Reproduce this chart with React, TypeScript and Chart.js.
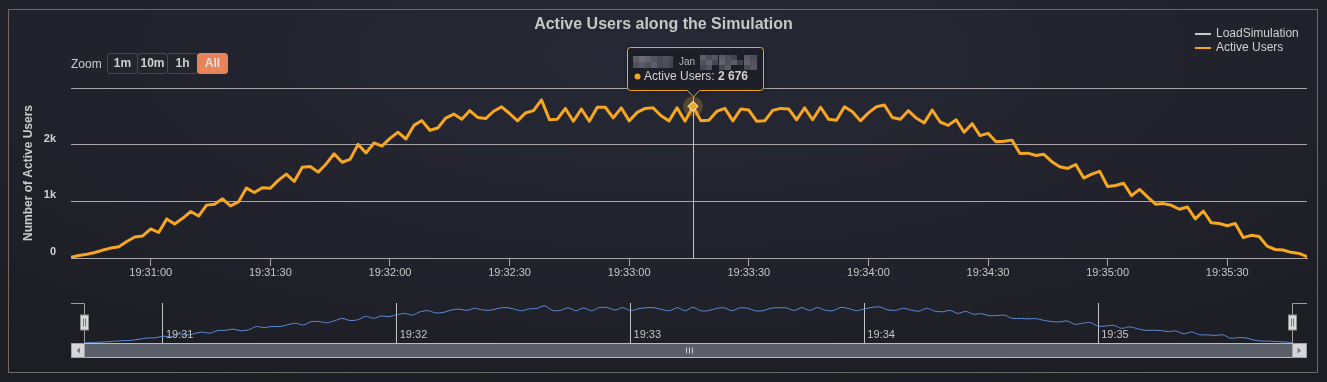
import React, { useEffect, useRef } from "react";
import { Chart, registerables } from "chart.js";

Chart.register(...registerables);

const FONT = '"Liberation Sans", Arial, Helvetica, sans-serif';
Chart.defaults.font.family = FONT;

const ORANGE = "#f5a623";
const NAV_BLUE = "#5b8ad6";
const GRID = "#aba6ab";
const LABEL = "#c8c8c8";

// ---------- data ----------
const chartTitle = "Active Users along the Simulation";
const yAxisTitle = "Number of Active Users";
const seriesNames = ["LoadSimulation", "Active Users"];
const seriesColors = ["#c8c8c8", ORANGE];
const zoomButtons = ["1m", "10m", "1h", "All"];
const selectedZoom = "All";

const START_TIME = "19:30:40";
const STEP_SECONDS = 2;

const activeUsers = [
  12, 45, 65, 97, 140, 175, 200, 290, 370, 390,
  513, 450, 690, 600, 700, 820, 740, 933, 950, 1044,
  920, 990, 1234, 1156, 1240, 1230, 1370, 1481, 1350, 1600,
  1616, 1515, 1660, 1840, 1690, 1740, 2005, 1853, 2030, 1975,
  2110, 2220, 2100, 2340, 2425, 2255, 2295, 2470, 2540, 2450,
  2600, 2480, 2460, 2590, 2667, 2550, 2420, 2560, 2600, 2790,
  2440, 2450, 2638, 2413, 2630, 2413, 2660, 2660, 2473, 2650,
  2420, 2570, 2640, 2650, 2510, 2420, 2650, 2413, 2676, 2420,
  2430, 2590, 2640, 2420, 2630, 2610, 2413, 2420, 2605, 2640,
  2630, 2440, 2650, 2440, 2660, 2450, 2430, 2670, 2580, 2420,
  2560, 2670, 2700, 2480, 2450, 2600, 2470, 2384, 2610, 2400,
  2340, 2440, 2220, 2370, 2160, 2200, 2050, 2060, 2080, 1845,
  1850, 1810, 1830, 1700, 1610, 1580, 1650, 1411, 1480, 1530,
  1260, 1280, 1320, 1100, 1210, 1080, 950, 960, 930, 860,
  900, 690, 830, 620, 610, 570, 610, 360, 400, 380,
  210, 150, 140, 100, 80, 25,
];
const loadSimulation: number[] = [];

const xTickLabels = [
  "19:31:00", "19:31:30", "19:32:00", "19:32:30", "19:33:00",
  "19:33:30", "19:34:00", "19:34:30", "19:35:00", "19:35:30",
];
const navTickLabels = ["19:31", "19:32", "19:33", "19:34", "19:35"];
const yTickValues = [0, 1000, 2000, 3000];
const yTickLabels = ["0", "1k", "2k", ""];
const hoverIndex = 78;
const tooltipMonth = "Jan";

// ---------- helpers ----------
const toSeconds = (s: string) => {
  const p = s.split(":").map(Number);
  return p[0] * 3600 + p[1] * 60 + (p[2] || 0);
};
const t0 = toSeconds(START_TIME);
const times = activeUsers.map((_, i) => t0 + i * STEP_SECONDS);
const xMin = times[0];
const xMax = times[times.length - 1];
const fmtNum = (v: number) => String(v).replace(/\B(?=(\d{3})+(?!\d))/g, " ");

// redacted mosaic cells in the tooltip header: [dx, dy, w, h, color]
const mosaic: [number, number, number, number, string][] = [
  [6, 9, 6, 6, "#5c5d67"], [12, 9, 6, 6, "#6a6b74"], [18, 9, 6, 6, "#62636c"], [24, 9, 6, 6, "#55565f"],
  [30, 9, 6, 6, "#4b4c56"], [36, 9, 6, 6, "#50515b"], [42, 9, 4, 6, "#464752"],
  [6, 15, 6, 6, "#50515b"], [12, 15, 6, 6, "#5a5b65"], [18, 15, 6, 6, "#4e4f59"], [24, 15, 6, 6, "#5e5f68"],
  [30, 15, 6, 6, "#474853"], [36, 15, 6, 6, "#4c4d57"], [42, 15, 4, 6, "#42434e"],
  [73, 8, 6, 5, "#5e5f69"], [79, 8, 6, 5, "#4a4b55"], [85, 8, 6, 5, "#565761"], [92, 8, 6, 5, "#5a5b64"],
  [98, 8, 6, 5, "#4d4e58"], [104, 8, 6, 5, "#43444e"], [117, 8, 6, 5, "#585962"], [123, 8, 7, 5, "#4c4d57"],
  [73, 13, 6, 5, "#4f505a"], [79, 13, 6, 5, "#60616a"], [85, 13, 6, 5, "#474852"], [92, 13, 6, 5, "#63646d"],
  [98, 13, 6, 5, "#50515b"], [104, 13, 6, 5, "#5b5c66"], [110, 13, 6, 5, "#3f404a"], [117, 13, 6, 5, "#5f6069"], [123, 13, 7, 5, "#51525c"],
  [73, 18, 6, 5, "#454650"], [79, 18, 6, 5, "#51525c"], [92, 18, 6, 5, "#484953"], [98, 18, 6, 5, "#575862"],
  [117, 18, 6, 5, "#4a4b55"], [123, 18, 7, 5, "#555660"],
];

// ---------- plugins ----------
const hoverPlugin = {
  id: "hoverPlugin",
  beforeDatasetsDraw(chart: any) {
    const { ctx, chartArea, scales } = chart;
    const px = Math.round(scales.x.getPixelForValue(times[hoverIndex])) + 0.5;
    ctx.save();
    ctx.strokeStyle = "#c4c0c4";
    ctx.lineWidth = 1;
    ctx.beginPath();
    ctx.moveTo(px, chartArea.top);
    ctx.lineTo(px, chartArea.bottom);
    ctx.stroke();
    ctx.restore();
  },
  afterDraw(chart: any) {
    const { ctx, scales } = chart;
    const px = scales.x.getPixelForValue(times[hoverIndex]);
    const py = scales.y.getPixelForValue(activeUsers[hoverIndex]);
    ctx.save();
    // halo
    ctx.fillStyle = "rgba(245,166,35,0.25)";
    ctx.beginPath();
    ctx.arc(px, py, 10, 0, Math.PI * 2);
    ctx.fill();
    // diamond marker
    const r = 5;
    ctx.beginPath();
    ctx.moveTo(px, py - r);
    ctx.lineTo(px + r, py);
    ctx.lineTo(px, py + r);
    ctx.lineTo(px - r, py);
    ctx.closePath();
    ctx.fillStyle = ORANGE;
    ctx.fill();
    ctx.strokeStyle = "#ffffff";
    ctx.lineWidth = 1;
    ctx.stroke();

    // tooltip box
    const left = Math.round(px - 66) + 0.5;
    const right = Math.round(px + 70) + 0.5;
    const top = Math.round(py - 59) + 0.5;
    const bottom = Math.round(py - 16) + 0.5;
    const ax = Math.round(px) + 0.5;
    const ay = Math.round(py - 9);
    const rr = 3;
    ctx.beginPath();
    ctx.moveTo(left + rr, top);
    ctx.lineTo(right - rr, top);
    ctx.quadraticCurveTo(right, top, right, top + rr);
    ctx.lineTo(right, bottom - rr);
    ctx.quadraticCurveTo(right, bottom, right - rr, bottom);
    ctx.lineTo(ax + 6, bottom);
    ctx.lineTo(ax, ay);
    ctx.lineTo(ax - 6, bottom);
    ctx.lineTo(left + rr, bottom);
    ctx.quadraticCurveTo(left, bottom, left, bottom - rr);
    ctx.lineTo(left, top + rr);
    ctx.quadraticCurveTo(left, top, left + rr, top);
    ctx.closePath();
    ctx.shadowColor = "rgba(0,0,0,0.45)";
    ctx.shadowBlur = 5;
    ctx.shadowOffsetX = 1;
    ctx.shadowOffsetY = 1;
    ctx.fillStyle = "rgba(30,31,40,0.93)";
    ctx.fill();
    ctx.shadowColor = "transparent";
    ctx.strokeStyle = ORANGE;
    ctx.lineWidth = 1;
    ctx.stroke();

    const L = left - 0.5;
    const T = top - 0.5;
    mosaic.forEach(([dx, dy, w, h, c]) => {
      ctx.fillStyle = c;
      ctx.fillRect(L + dx, T + dy, w, h);
    });
    ctx.textAlign = "left";
    ctx.textBaseline = "middle";
    ctx.font = `10px ${FONT}`;
    ctx.fillStyle = "#b8b8b8";
    ctx.fillText(tooltipMonth, L + 52, T + 15);

    ctx.fillStyle = ORANGE;
    ctx.beginPath();
    ctx.arc(L + 10.5, T + 29.5, 3, 0, Math.PI * 2);
    ctx.fill();
    ctx.font = `12px ${FONT}`;
    ctx.fillStyle = "#d2d2d2";
    const lab = `${seriesNames[1]}: `;
    ctx.fillText(lab, L + 17, T + 30);
    const w = ctx.measureText(lab).width;
    ctx.font = `bold 12px ${FONT}`;
    ctx.fillText(fmtNum(activeUsers[hoverIndex]), L + 17 + w, T + 30);
    ctx.restore();
  },
};

const NAV_OUTER_LEFT = 71;
const NAV_OUTER_RIGHT = 1307;

const navPlugin = {
  id: "navPlugin",
  afterDraw(chart: any) {
    const { ctx, chartArea: a, scales } = chart;
    ctx.save();
    // tick labels
    ctx.font = `11px ${FONT}`;
    ctx.fillStyle = "#c4c4c4";
    ctx.textAlign = "left";
    ctx.textBaseline = "middle";
    navTickLabels.forEach((l) => {
      const x = scales.x.getPixelForValue(toSeconds(l));
      ctx.fillText(l, x + 3, a.bottom - 8.5);
    });
    // outline
    const xl = Math.round(a.left) - 0.5;
    const xr = Math.round(a.right) - 0.5;
    const yt = Math.round(a.top) + 0.5;
    const yb = Math.round(a.bottom);
    ctx.strokeStyle = "#9c9c9c";
    ctx.lineWidth = 1;
    ctx.beginPath();
    ctx.moveTo(NAV_OUTER_LEFT, yt);
    ctx.lineTo(xl, yt);
    ctx.lineTo(xl, yb);
    ctx.moveTo(NAV_OUTER_RIGHT, yt);
    ctx.lineTo(xr, yt);
    ctx.lineTo(xr, yb);
    ctx.stroke();
    // handles
    [xl, xr].forEach((hx) => {
      ctx.fillStyle = "#d9d9dc";
      ctx.strokeStyle = "#8e8e8e";
      ctx.fillRect(hx - 4, yt + 11.5, 8, 15);
      ctx.strokeRect(hx - 4, yt + 11.5, 8, 15);
      ctx.strokeStyle = "#777";
      ctx.beginPath();
      ctx.moveTo(hx - 1, yt + 15);
      ctx.lineTo(hx - 1, yt + 23);
      ctx.moveTo(hx + 1, yt + 15);
      ctx.lineTo(hx + 1, yt + 23);
      ctx.stroke();
    });
    // scrollbar
    const sy = yb + 0.5;
    const sh = 14;
    ctx.fillStyle = "#5b5f69";
    ctx.fillRect(xl, sy, xr - xl, sh);
    ctx.strokeStyle = "#b9b9be";
    ctx.strokeRect(xl, sy, xr - xl, sh);
    // buttons
    const btn = (x0: number, x1: number, dir: number) => {
      ctx.fillStyle = "#d6d6da";
      ctx.fillRect(x0, sy, x1 - x0, sh);
      ctx.strokeStyle = "#a3a3a8";
      ctx.strokeRect(x0, sy, x1 - x0, sh);
      const cx = (x0 + x1) / 2;
      const cy = sy + sh / 2;
      ctx.fillStyle = "#7a7a7a";
      ctx.beginPath();
      ctx.moveTo(cx + dir * 2, cy - 3);
      ctx.lineTo(cx - dir * 1.5, cy);
      ctx.lineTo(cx + dir * 2, cy + 3);
      ctx.closePath();
      ctx.fill();
    };
    btn(NAV_OUTER_LEFT + 0.5, xl, 1);
    btn(xr, NAV_OUTER_RIGHT - 0.5, -1);
    // rifles
    const mx = Math.round((xl + xr) / 2) + 0.5;
    ctx.strokeStyle = "#cfcfd3";
    ctx.beginPath();
    [-3, 0, 3].forEach((d) => {
      ctx.moveTo(mx + d, sy + 4);
      ctx.lineTo(mx + d, sy + 10);
    });
    ctx.stroke();
    ctx.restore();
  },
};

// ---------- component ----------
export default function App() {
  const mainRef = useRef<HTMLCanvasElement>(null);
  const navRef = useRef<HTMLCanvasElement>(null);

  useEffect(() => {
    const points = times.map((t, i) => ({ x: t, y: activeUsers[i] }));
    const main = new Chart(mainRef.current as HTMLCanvasElement, {
      type: "line",
      data: {
        datasets: [
          {
            label: seriesNames[0],
            data: loadSimulation.map((v, i) => ({ x: times[i], y: v })),
            borderColor: seriesColors[0],
            borderWidth: 2,
            pointRadius: 0,
          },
          {
            label: seriesNames[1],
            data: points,
            borderColor: ORANGE,
            borderWidth: 3,
            pointRadius: 0,
            tension: 0,
            borderJoinStyle: "round",
            borderCapStyle: "round",
          },
        ],
      },
      options: {
        responsive: false,
        animation: false,
        devicePixelRatio: 1,
        events: [],
        layout: { padding: { left: 21, right: 20, top: 88, bottom: 94 } },
        plugins: {
          legend: { display: false },
          tooltip: { enabled: false },
          title: { display: false },
        },
        scales: {
          x: {
            type: "linear",
            min: xMin,
            max: xMax,
            afterBuildTicks: (s: any) => {
              s.ticks = xTickLabels.map((l) => ({ value: toSeconds(l) }));
            },
            afterFit: (s: any) => {
              s.height = 30;
            },
            ticks: {
              callback: (_v: any, i: number) => xTickLabels[i],
              color: LABEL,
              font: { size: 11 },
              padding: 0,
              maxRotation: 0,
              autoSkip: false,
            },
            grid: { drawOnChartArea: false, drawTicks: true, tickLength: 8, color: GRID },
            border: { display: true, color: GRID },
          },
          y: {
            min: 0,
            max: 3000,
            afterBuildTicks: (s: any) => {
              s.ticks = yTickValues.map((v) => ({ value: v }));
            },
            afterFit: (s: any) => {
              s.width = 50;
            },
            ticks: {
              callback: (_v: any, i: number) => yTickLabels[i],
              color: "#d2d2d2",
              font: { size: 11, weight: "bold" },
              padding: 15,
              labelOffset: -6,
            },
            grid: { color: GRID, drawTicks: false },
            border: { display: false },
            title: {
              display: true,
              text: yAxisTitle,
              color: "#cacaca",
              font: { size: 12, weight: "bold" },
              padding: 0,
            },
          },
        },
      } as any,
      plugins: [hoverPlugin],
    } as any);

    const nav = new Chart(navRef.current as HTMLCanvasElement, {
      type: "line",
      data: {
        datasets: [
          {
            data: points,
            borderColor: NAV_BLUE,
            borderWidth: 1,
            pointRadius: 0,
            tension: 0.3,
          },
        ],
      },
      options: {
        responsive: false,
        animation: false,
        devicePixelRatio: 1,
        events: [],
        layout: { padding: { left: 85, right: 34, top: 303, bottom: 39 } },
        plugins: { legend: { display: false }, tooltip: { enabled: false } },
        scales: {
          x: {
            type: "linear",
            min: xMin,
            max: xMax,
            afterBuildTicks: (s: any) => {
              s.ticks = navTickLabels.map((l) => ({ value: toSeconds(l) }));
            },
            afterFit: (s: any) => {
              s.height = 0;
            },
            ticks: { display: false },
            grid: { color: "#c4c4c4", drawTicks: false },
            border: { display: false },
          },
          y: { display: false, min: 0, max: 3000 },
        },
      } as any,
      plugins: [navPlugin],
    } as any);

    return () => {
      main.destroy();
      nav.destroy();
    };
  }, []);

  return (
    <div
      style={{
        position: "fixed",
        left: 0,
        top: 0,
        width: 1327,
        height: 382,
        overflow: "hidden",
        fontFamily: FONT,
        background:
          "radial-gradient(ellipse 75% 95% at 50% 15%, #262935 0%, #22232d 50%, #1d1d24 100%)",
      }}
    >
      <div
        style={{
          position: "absolute",
          left: 8,
          top: 9,
          width: 1310,
          height: 364,
          boxSizing: "border-box",
          border: "1px solid #6e6964",
        }}
      />
      <canvas ref={mainRef} width={1327} height={382} style={{ position: "absolute", left: 0, top: 0 }} />
      <canvas ref={navRef} width={1327} height={382} style={{ position: "absolute", left: 0, top: 0 }} />

      <div
        style={{
          position: "absolute",
          left: 0,
          top: 14,
          width: 1327,
          textAlign: "center",
          font: `bold 16px/20px ${FONT}`,
          color: "#c6c6c6",
        }}
      >
        {chartTitle}
      </div>

      {seriesNames.map((n, i) => (
        <React.Fragment key={n}>
          <div
            style={{
              position: "absolute",
              left: 1195,
              top: 33 + i * 14,
              width: 16,
              height: 2,
              background: seriesColors[i],
            }}
          />
          <div
            style={{
              position: "absolute",
              left: 1216,
              top: 26 + i * 14,
              font: `12px/14px ${FONT}`,
              color: "#d0d0d0",
              whiteSpace: "nowrap",
            }}
          >
            {n}
          </div>
        </React.Fragment>
      ))}

      <div
        style={{
          position: "absolute",
          left: 71,
          top: 57,
          font: `12px/14px ${FONT}`,
          color: "#cccccc",
        }}
      >
        Zoom
      </div>
      {zoomButtons.map((b, i) => {
        const sel = b === selectedZoom;
        return (
          <div
            key={b}
            style={{
              position: "absolute",
              left: 107 + i * 30,
              top: 53,
              width: 31,
              height: 21,
              boxSizing: "border-box",
              border: `1px solid ${sel ? "#e8845c" : "#474951"}`,
              borderRadius: 3,
              background: sel ? "#e8845c" : "#23242c",
              color: sel ? "#e2e2e2" : "#d0d0d0",
              font: `bold 12px/18px ${FONT}`,
              textAlign: "center",
            }}
          >
            {b}
          </div>
        );
      })}
    </div>
  );
}
